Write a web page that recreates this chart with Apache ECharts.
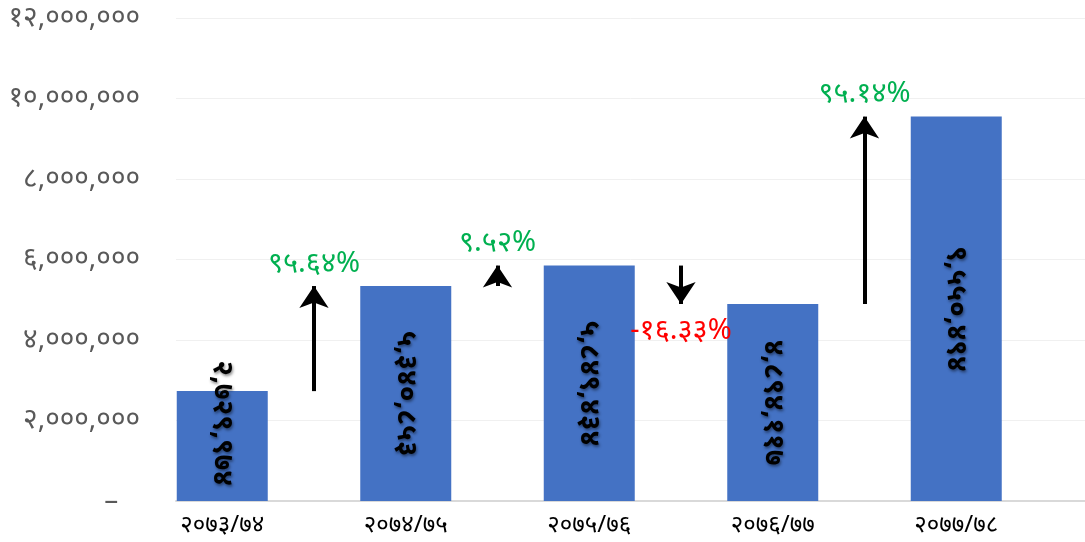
<!DOCTYPE html>
<html><head><meta charset="utf-8">
<script src="https://cdn.jsdelivr.net/npm/echarts@6/dist/echarts.min.js"></script>
<style>html,body{margin:0;padding:0;background:#fff}#c{width:1085px;height:542px}</style>
</head><body><div id="c"></div>
<script>
// ---- data ----
const categories = ['२०७३/७४', '२०७४/७५', '२०७५/७६', '२०७६/७७', '२०७७/७८'];
const values = [2729974, 5340853, 5849434, 4894117, 9550494];
const changePct = [95.64, 9.52, -16.33, 95.14];
const yMin = 0, yMax = 12000000, yInterval = 2000000;

const DEV = '०१२३४५६७८९';
function toDev(s) { return String(s).replace(/[0-9]/g, d => DEV[d]); }
function fmtNum(v) { return toDev(Math.round(v).toLocaleString('en-US')); }
function fmtPct(p) { return toDev(p.toFixed(2)) + '%'; }

const FONT = '"Noto Sans", "DejaVu Sans", sans-serif';
const chart = echarts.init(document.getElementById('c'), null, { renderer: 'canvas' });

const arrows = changePct.map((p, i) => [
  { coord: [i + 0.5, values[i]] },
  {
    coord: [i + 0.5, values[i + 1]],
    label: {
      show: true, position: 'end', distance: p >= 0 ? 8 : 12,
      formatter: fmtPct(p),
      color: p >= 0 ? '#00B050' : '#FF0000',
      fontSize: 29, fontFamily: FONT
    }
  }
]);

const gridRect = { top: 18, bottom: 41, outerBoundsMode: 'none', containLabel: false };
const option = {
  animation: false,
  backgroundColor: '#fff',
  grid: [
    Object.assign({ left: 176, right: 0 }, gridRect),
    Object.assign({ left: 130.5, width: 917.5 }, gridRect),
    Object.assign({ left: 130.5, width: 917.5 }, gridRect)
  ],
  xAxis: [
    { type: 'category', gridIndex: 0, data: categories,
      axisLine: { lineStyle: { color: '#D9D9D9', width: 2 } },
      axisTick: { show: false }, axisLabel: { show: false } },
    { type: 'category', gridIndex: 1, data: categories,
      axisLine: { show: false }, axisTick: { show: false },
      axisLabel: { color: '#000', fontSize: 24, fontFamily: FONT, margin: 12 } },
    { type: 'value', gridIndex: 2, min: -0.5, max: 4.5, show: false }
  ],
  yAxis: [
    { type: 'value', gridIndex: 0, min: yMin, max: yMax, interval: yInterval,
      axisLine: { show: false }, axisTick: { show: false },
      splitLine: { lineStyle: { color: '#F0F0F0', width: 1 } },
      axisLabel: { color: '#595959', fontSize: 28, fontFamily: FONT, margin: 36,
        padding: [0, 0, 6, 0],
        formatter: v => v === 0 ? '–   ' : fmtNum(v) } },
    { type: 'value', gridIndex: 1, min: yMin, max: yMax, interval: yInterval, show: false },
    { type: 'value', gridIndex: 2, min: yMin, max: yMax, interval: yInterval, show: false }
  ],
  series: [
    {
      type: 'bar', xAxisIndex: 1, yAxisIndex: 1, barWidth: 91,
      itemStyle: { color: '#4472C4' },
      data: values.map((v, i) => i === 0
        ? { value: v, label: { offset: [-23, 0] } }
        : v),
      label: {
        show: true, position: 'inside', rotate: -90,
        formatter: p => fmtNum(p.value),
        color: '#000', fontSize: 28, fontWeight: 'bold', fontFamily: FONT,
        textShadowColor: 'rgba(0,0,0,0.45)', textShadowBlur: 3,
        textShadowOffsetX: 1, textShadowOffsetY: 2
      }
    },
    {
      type: 'line', xAxisIndex: 2, yAxisIndex: 2, data: [], silent: true,
      markLine: {
        silent: true, animation: false,
        symbol: ['none', 'arrow'], symbolSize: 22,
        lineStyle: { color: '#000', width: 4, type: 'solid' },
        label: { show: true },
        data: arrows
      }
    }
  ]
};
chart.setOption(option);
</script>
</body></html>
